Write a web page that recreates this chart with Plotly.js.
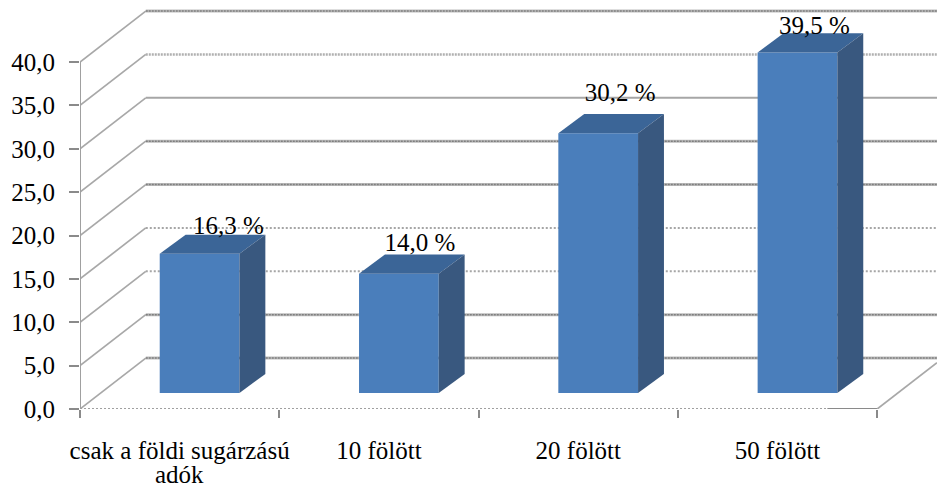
<!DOCTYPE html>
<html><head><meta charset="utf-8">
<script src="https://cdn.plot.ly/plotly-3.0.1.min.js"></script>
<style>html,body{margin:0;padding:0;background:#fff}</style>
</head><body><div id="chart" style="width:937px;height:488px"></div>
<script>
const categories = ["csak a földi sugárzású", "10 fölött", "20 fölött", "50 fölött"];
const firstCategoryLine2 = "adók";
const values = [16.3, 14.0, 30.2, 39.5];
const yTicks = [0, 5, 10, 15, 20, 25, 30, 35, 40];

// 3D projection, in axis units
const wallDx = 0.33, wallDy = 5.87;
const barCenterShift = 0.6, barWidth = 0.4, barDx = 0.13, barDy = 2.2;
const floorLift = 1.84, topLift = 1.6;
const labelNudgeX = [0.145, 0.105, 0.11, 0.085];
const labelNudgeY = [4.6, 4.9, 6.0, 4.5];
const gridStyle = ['tooth','tooth','dot','dot','tooth','tooth','solid','wavy','tooth'];
const gridColor = '#a8a8a8', axisColor = '#8a8a8a';

const xc = categories.map((c, i) => i + barCenterShift);
const tops = values.map(v => v + topLift);

function seg(x0, y0, x1, y1, color, width, dash) {
  return {type:'line', xref:'x', yref:'y', layer:'below', x0, y0, x1, y1, line:{color, width, dash: dash || 'solid'}};
}
const shapes = [];
yTicks.forEach((t, i) => {
  const y = t + wallDy, s = gridStyle[i];
  shapes.push(seg(0, t, wallDx, y, gridColor, 1.7));
  if (s === 'solid') shapes.push(seg(wallDx, y, 4.3, y, '#a6a6a6', 2));
  if (s === 'dot') shapes.push(seg(wallDx, y, 4.3, y, '#a6a6a6', 2, '2px,2px'));
  if (s === 'wavy') shapes.push(seg(wallDx, y, 4.3, y, '#b0b0b0', 2.5, '2px,1px'));
  if (s === 'tooth') {
    shapes.push(seg(wallDx, y, 4.3, y, '#bdbdbd', 3));
    shapes.push(seg(wallDx, y, 4.3, y, '#7f7f7f', 1.5, '2px,1px'));
  }
});
shapes.push(seg(0, 0, 0, 40, '#a0a0a0', 2));
shapes.push(seg(0, 0, 3.75, 0, '#a0a0a0', 2, '2px,2px'));
shapes.push(seg(3.75, 0, 4, 0, axisColor, 2));
shapes.push(seg(4, 0, 4.3, wallDy * 0.91, gridColor, 1.7));

const traces = [{
  type:'bar', x:xc, y:tops.map(t => t - floorLift), base:floorLift, width:barWidth,
  marker:{color:'#4a7ebb', line:{width:0}}, hoverinfo:'skip', showlegend:false
}];
xc.forEach((x, i) => {
  const l = x - barWidth/2, r = x + barWidth/2, t = tops[i];
  traces.push({type:'scatter', mode:'none', fill:'toself', fillcolor:'#3b6597', hoverinfo:'skip', showlegend:false,
    x:[l, r, r + barDx, l + barDx, l], y:[t, t, t + barDy, t + barDy, t]});
  traces.push({type:'scatter', mode:'none', fill:'toself', fillcolor:'#39587f', hoverinfo:'skip', showlegend:false,
    x:[r, r + barDx, r + barDx, r, r], y:[t, t + barDy, floorLift + barDy, floorLift, t]});
});
traces.push({
  type:'scatter', mode:'text', cliponaxis:false, hoverinfo:'skip', showlegend:false,
  x:xc.map((x, i) => x + labelNudgeX[i]), y:values.map((v, i) => v + labelNudgeY[i]),
  text:values.map(v => v.toFixed(1).replace('.', ',') + ' %'),
  textposition:'middle center',
  textfont:{family:'"Liberation Serif", serif', size:25, color:'#000'}
});

Plotly.newPlot('chart', traces, {
  width:937, height:488,
  margin:{l:80, r:0, t:0, b:79, pad:0},
  paper_bgcolor:'#fff', plot_bgcolor:'#fff',
  separators:',.',
  showlegend:false,
  font:{family:'"Liberation Serif", serif', size:25, color:'#000'},
  shapes:shapes,
  annotations:[{
    text:firstCategoryLine2, xref:'x', x:0.5, yref:'paper', y:-65/409, yanchor:'middle', xanchor:'center',
    showarrow:false, borderpad:0, font:{family:'"Liberation Serif", serif', size:25, color:'#000'}
  }],
  xaxis:{
    range:[0, 4.3], showgrid:false, zeroline:false, showline:false,
    tickmode:'array', tickvals:categories.map((c, i) => i + 0.5), ticktext:categories,
    ticks:'', tickangle:0, ticklabelstandoff:24,
    minor:{tickmode:'array', tickvals:[0, 1, 2, 3, 4], ticks:'outside', ticklen:8, tickwidth:2, tickcolor:axisColor, showgrid:false}
  },
  yaxis:{
    range:[0, 409/8.675], showgrid:false, zeroline:false, showline:false,
    tickmode:'array', tickvals:yTicks, tickformat:'.1f',
    ticks:'outside', ticklen:10, tickwidth:2, tickcolor:axisColor, ticklabelstandoff:9
  }
}, {displayModeBar:false, staticPlot:true});
</script></body></html>
